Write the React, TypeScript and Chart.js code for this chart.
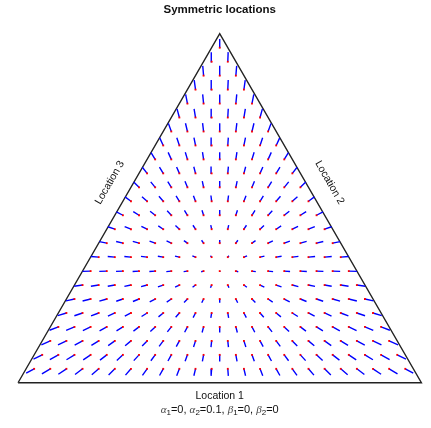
import React, { useEffect, useRef } from "react";
import { Chart, registerables } from "chart.js";

Chart.register(...registerables);

// ---- Text ----
const TITLE = "Symmetric locations";
const BOTTOM_LABEL = "Location 1";
const RIGHT_LABEL = "Location 2";
const LEFT_LABEL = "Location 3";
const PARAM_SYMBOLS = ["α", "α", "β", "β"];
const PARAM_SUBSCRIPTS = ["1", "2", "1", "2"];
const PARAM_VALUES = ["0", "0.1", "0", "0"];

// ---- Grid (simplex lattice with 1/25 steps, rows 1..24 above the base) ----
const GRID_DIVISIONS = 25;
const ROW_LEVELS = [1, 2, 3, 4, 5, 6, 7, 8, 9, 10, 11, 12, 13, 14, 15, 16, 17, 18, 19, 20, 21, 22, 23, 24];

// ---- Segment length (in triangle-side units) read against distance from the centre ----
const DIST_BANDS = [0, 0.0243, 0.0487, 0.0827, 0.1168, 0.1509, 0.1946, 0.2555, 0.3163, 0.3893, 0.4623, 0.4988, 0.5377];
const SEG_LENGTHS = [0.0012, 0.0036, 0.0073, 0.0097, 0.0122, 0.0141, 0.0158, 0.0175, 0.0202, 0.0224, 0.0243, 0.0243, 0.0219];

const H = Math.sqrt(3) / 2;

function lengthAt(d: number): number {
  if (d <= DIST_BANDS[0]) return SEG_LENGTHS[0];
  for (let i = 1; i < DIST_BANDS.length; i++) {
    if (d <= DIST_BANDS[i]) {
      const t = (d - DIST_BANDS[i - 1]) / (DIST_BANDS[i] - DIST_BANDS[i - 1]);
      return SEG_LENGTHS[i - 1] + t * (SEG_LENGTHS[i] - SEG_LENGTHS[i - 1]);
    }
  }
  return SEG_LENGTHS[SEG_LENGTHS.length - 1];
}

function buildData() {
  const starts: { x: number; y: number }[] = [];
  const segs: { x: number; y: number | null }[] = [];
  const cx = 0.5;
  const cy = H / 3;
  ROW_LEVELS.forEach((k) => {
    const count = GRID_DIVISIONS - k;
    const y = (k / GRID_DIVISIONS) * H;
    for (let j = 0; j < count; j++) {
      const x = 0.5 + (j - (count - 1) / 2) / GRID_DIVISIONS;
      starts.push({ x, y });
      const dx = x - cx;
      const dy = y - cy;
      const d = Math.sqrt(dx * dx + dy * dy);
      if (d > 1e-6) {
        const L = lengthAt(d);
        segs.push({ x, y });
        segs.push({ x: x + (dx / d) * L, y: y + (dy / d) * L });
        segs.push({ x, y: null });
      }
    }
  });
  return { starts, segs };
}

const textPlugin = {
  id: "ternaryText",
  afterDraw(chart: any) {
    const ctx = chart.ctx as CanvasRenderingContext2D;
    const xs = chart.scales.x;
    const ys = chart.scales.y;
    const midX = xs.getPixelForValue(0.5);
    const baseY = ys.getPixelForValue(0);
    ctx.save();
    ctx.fillStyle = "#111";
    ctx.textAlign = "center";
    ctx.textBaseline = "middle";
    ctx.font = "bold 11.5px 'Liberation Sans', Arial, sans-serif";
    ctx.fillText(TITLE, midX, 9.5);

    ctx.font = "10.5px 'Liberation Sans', Arial, sans-serif";
    ctx.fillText(BOTTOM_LABEL, midX, baseY + 13);

    // side labels, parallel to the triangle sides
    const sideY = ys.getPixelForValue(0.4967);
    const rx = xs.getPixelForValue(0.7723);
    const lx = xs.getPixelForValue(0.2277);
    ctx.save();
    ctx.translate(rx, sideY);
    ctx.rotate(Math.PI / 3);
    ctx.fillText(RIGHT_LABEL, 0, 0);
    ctx.restore();
    ctx.save();
    ctx.translate(lx, sideY);
    ctx.rotate(-Math.PI / 3);
    ctx.fillText(LEFT_LABEL, 0, 0);
    ctx.restore();

    // parameter line with subscripts
    const mainFont = "11px 'Liberation Sans', Arial, sans-serif";
    const greekFont = "italic 11px 'Liberation Serif', 'DejaVu Serif', serif";
    const subFont = "8px 'Liberation Sans', Arial, sans-serif";
    const pieces: { t: string; f: string; dy: number }[] = [];
    PARAM_SYMBOLS.forEach((s, i) => {
      pieces.push({ t: s, f: greekFont, dy: 0 });
      pieces.push({ t: PARAM_SUBSCRIPTS[i], f: subFont, dy: 3 });
      pieces.push({ t: "=" + PARAM_VALUES[i] + (i < PARAM_SYMBOLS.length - 1 ? ", " : ""), f: mainFont, dy: 0 });
    });
    let total = 0;
    pieces.forEach((p) => {
      ctx.font = p.f;
      total += ctx.measureText(p.t).width;
    });
    let x = midX - total / 2;
    const py = baseY + 27;
    ctx.textAlign = "left";
    ctx.textBaseline = "middle";
    pieces.forEach((p) => {
      ctx.font = p.f;
      ctx.fillStyle = p.f === greekFont ? "#444" : "#111";
      ctx.fillText(p.t, x, py + p.dy);
      x += ctx.measureText(p.t).width;
    });
    ctx.restore();
  },
};

export default function App() {
  const ref = useRef<HTMLCanvasElement | null>(null);
  useEffect(() => {
    if (!ref.current) return;
    const { starts, segs } = buildData();
    const chart = new Chart(ref.current, {
      type: "scatter",
      data: {
        datasets: [
          {
            label: "points",
            data: starts,
            pointStyle: "rect",
            pointRadius: 1.3,
            pointBorderWidth: 0,
            pointBackgroundColor: "#ff0000",
            showLine: false,
            order: 1,
          } as any,
          {
            label: "segments",
            data: segs,
            showLine: true,
            spanGaps: false,
            borderColor: "#0000ff",
            borderWidth: 1.4,
            pointRadius: 0,
            order: 2,
          } as any,
          {
            label: "triangle",
            data: [
              { x: 0, y: 0 },
              { x: 1, y: 0 },
              { x: 0.5, y: H },
              { x: 0, y: 0 },
            ],
            showLine: true,
            borderColor: "#222",
            borderWidth: 1.4,
            pointRadius: 0,
            order: 3,
          } as any,
        ],
      },
      options: {
        animation: false,
        responsive: false,
        events: [],
        layout: { padding: 0 },
        plugins: { legend: { display: false }, tooltip: { enabled: false }, title: { display: false } },
        scales: {
          x: { type: "linear", min: -0.0348, max: 1.0139, display: false },
          y: { type: "linear", min: -0.1023, max: 0.9399, display: false },
        },
      },
      plugins: [textPlugin],
    });
    return () => chart.destroy();
  }, []);
  return (
    <div style={{ position: "absolute", left: 0, top: 0, width: 431, height: 428, background: "#fff" }}>
      <canvas ref={ref} width={431} height={428} style={{ width: 431, height: 428 }} />
    </div>
  );
}
